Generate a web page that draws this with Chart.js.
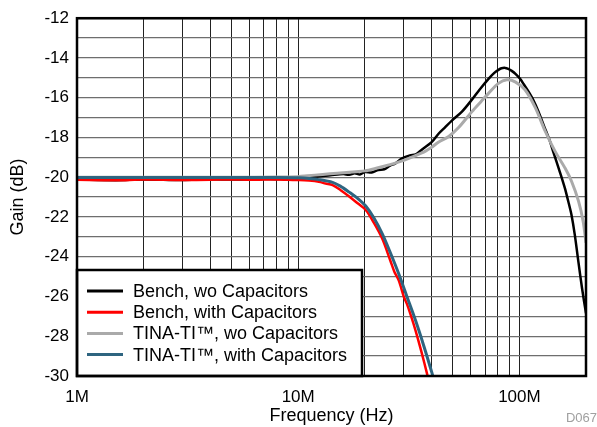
<!DOCTYPE html>
<html>
<head>
<meta charset="utf-8">
<script src="https://cdn.jsdelivr.net/npm/chart.js@4/dist/chart.umd.min.js"></script>
<style>
html,body{margin:0;padding:0;background:#fff;}
#wrap{position:relative;width:597px;height:427px;}
</style>
</head>
<body>
<div id="wrap"><canvas id="c" width="597" height="427"></canvas></div>
<script>
// ---- data (frequency in MHz, gain in dB) ----
const seriesLabels = ["Bench, wo Capacitors", "Bench, with Capacitors", "TINA-TI\u2122, wo Capacitors", "TINA-TI\u2122, with Capacitors"];
const seriesColors = ["#000000", "#ff0000", "#aaaaaa", "#2e6580"];

const freqBenchWo = [1, 1.5, 2, 3, 4, 5, 6, 7, 8, 9, 10, 12, 14, 16, 17, 18, 19, 20, 21.5, 23, 24.5, 26, 27.5, 29.5, 32, 34, 36.3, 40, 43.2, 46, 49.5, 55, 61, 66, 72.5, 77, 80.4, 83, 86.2, 89, 92.3, 96, 100.7, 105, 110, 116, 122, 131, 137, 142, 147, 152, 157, 161, 167, 172, 178, 185, 192, 200];
const gainBenchWo = [-20.12, -20.15, -20.11, -20.14, -20.1, -20.12, -20.1, -20.09, -20.1, -20.06, -20.03, -19.97, -19.9, -19.84, -19.88, -19.8, -19.86, -19.74, -19.76, -19.64, -19.6, -19.42, -19.3, -19.05, -18.9, -18.85, -18.6, -18.25, -17.8, -17.5, -17.15, -16.7, -16.1, -15.6, -15.05, -14.75, -14.6, -14.52, -14.5, -14.55, -14.65, -14.8, -15.05, -15.35, -15.7, -16.15, -16.7, -17.6, -18.15, -18.7, -19.2, -19.7, -20.2, -20.6, -21.3, -21.9, -22.9, -24.3, -25.6, -26.85];

const freqBenchWith = [1, 1.5, 2, 3, 4, 5, 6, 7, 8, 9, 10.1, 11.2, 12.4, 13.3, 14.3, 15.5, 17, 18.5, 20.2, 22, 24, 26.1, 27.2, 28.5, 30, 31, 32.3, 33.9, 36, 38.2, 38.6];
const gainBenchWith = [-20.13, -20.15, -20.12, -20.14, -20.13, -20.11, -20.13, -20.12, -20.11, -20.13, -20.14, -20.17, -20.23, -20.32, -20.4, -20.64, -20.97, -21.3, -21.65, -22.3, -23.1, -24.2, -24.75, -25.2, -26.0, -26.37, -26.95, -27.7, -28.75, -29.87, -30.1];

const freqTinaWo = [1, 2, 5, 8, 10, 11, 12.9, 15, 18.2, 20, 22.5, 25.7, 30, 36.2, 40, 43.2, 47.9, 53.1, 61, 67, 72.5, 80.4, 87.7, 95.7, 106, 118, 131, 145, 161, 172, 185, 194, 200];
const gainTinaWo = [-20.0, -20.0, -20.0, -19.99, -19.97, -19.93, -19.86, -19.8, -19.72, -19.68, -19.55, -19.38, -19.15, -18.78, -18.5, -18.23, -17.95, -17.5, -16.7, -16.2, -15.78, -15.28, -15.1, -15.2, -15.6, -16.5, -17.7, -18.7, -19.55, -20.2, -21.2, -22.2, -23.3];

const freqTinaWith = [1, 2, 5, 8, 10.1, 11.2, 12.4, 14.3, 15.5, 17, 18.5, 20.2, 22, 24, 26.1, 28.5, 31, 33.9, 37, 40.3, 40.8];
const gainTinaWith = [-20.02, -20.02, -20.02, -20.02, -20.03, -20.06, -20.12, -20.26, -20.45, -20.75, -21.05, -21.45, -22.05, -22.85, -23.8, -24.87, -26.0, -27.2, -28.5, -29.87, -30.1];

const xTickLabels = {1: "1M", 10: "10M", 100: "100M"};
const yMin = -30, yMax = -12;
const xMin = 1, xMax = 200;

function pts(fs, gs){ return fs.map((f,i)=>({x:f, y:gs[i]})); }

const seriesData = [
  pts(freqBenchWo, gainBenchWo),
  pts(freqBenchWith, gainBenchWith),
  pts(freqTinaWo, gainTinaWo),
  pts(freqTinaWith, gainTinaWith)
];
const lineWidths = [2.5, 2.5, 3, 3];
const drawOrder = [3, 2, 1, 0];

const FONT = "'Liberation Sans', Arial, sans-serif";

const overlayPlugin = {
  id: 'overlay',
  afterDatasetsDraw(chart){
    const ctx = chart.ctx, a = chart.chartArea;
    // legend box
    const bx = a.left, by = 270, bw = 362 - a.left, bh = a.bottom - 270;
    ctx.save();
    ctx.fillStyle = '#fff';
    ctx.fillRect(bx, by, bw, bh);
    ctx.lineWidth = 2.5;
    ctx.strokeStyle = '#000';
    ctx.strokeRect(bx, by, bw, bh);
    ctx.font = '18px ' + FONT;
    ctx.textBaseline = 'middle';
    ctx.textAlign = 'left';
    chart.data.datasets.forEach((ds, i) => {
      const y = 291 + i * 21.2;
      ctx.strokeStyle = ds.borderColor;
      ctx.lineWidth = 3;
      ctx.beginPath();
      ctx.moveTo(87, y);
      ctx.lineTo(123, y);
      ctx.stroke();
      ctx.fillStyle = '#000';
      ctx.fillText(ds.label, 133, y + 1);
    });
    // frame
    ctx.lineWidth = 2.5;
    ctx.strokeStyle = '#000';
    ctx.strokeRect(a.left, a.top, a.right - a.left, a.bottom - a.top);
    ctx.restore();
  },
  afterDraw(chart){
    const ctx = chart.ctx;
    ctx.save();
    ctx.font = '13px ' + FONT;
    ctx.fillStyle = '#a0a0a0';
    ctx.textAlign = 'right';
    ctx.textBaseline = 'middle';
    ctx.fillText('D067', 597, 418);
    ctx.restore();
  }
};

new Chart(document.getElementById('c'), {
  type: 'line',
  data: {
    datasets: seriesData.map((d, i) => ({
      label: seriesLabels[i],
      data: d,
      borderColor: seriesColors[i],
      backgroundColor: seriesColors[i],
      borderWidth: lineWidths[i],
      pointRadius: 0,
      tension: 0.3,
      fill: false,
      order: drawOrder[i]
    }))
  },
  options: {
    responsive: false,
    animation: false,
    events: [],
    layout: { padding: { left: 0, right: 9, top: 16, bottom: 0 } },
    plugins: { legend: { display: false }, tooltip: { enabled: false } },
    scales: {
      x: {
        type: 'logarithmic',
        min: xMin, max: xMax,
        afterBuildTicks(scale){
          const t = [];
          for (let d = 1; d <= 100; d *= 10)
            for (let m = 1; m <= 9; m++) { const v = m * d; if (v <= xMax) t.push({value: v}); }
          t.push({value: xMax});
          scale.ticks = t;
        },
        afterFit(scale){ scale.height = 51; },
        ticks: {
          autoSkip: false, maxRotation: 0, padding: 11,
          color: '#000',
          font: { family: FONT, size: 17 },
          callback(v){ return xTickLabels[v] || ''; }
        },
        grid: { color: '#222', lineWidth: 1, drawTicks: false },
        border: { display: false },
        title: { display: true, text: 'Frequency (Hz)', color: '#000', font: { family: FONT, size: 18 }, padding: { top: 0, bottom: 0 } }
      },
      y: {
        type: 'linear',
        min: yMin, max: yMax,
        afterFit(scale){ scale.width = 77; },
        ticks: {
          stepSize: 1, autoSkip: false, padding: 8,
          color: '#000',
          font: { family: FONT, size: 17 },
          callback(v){ return (v % 2 === 0) ? String(v) : ''; }
        },
        grid: { color: '#6e6e6e', lineWidth: 1.3, drawTicks: false },
        border: { display: false },
        title: { display: true, text: 'Gain (dB)', color: '#000', font: { family: FONT, size: 18 }, padding: { top: 7.5, bottom: 0 } }
      }
    }
  },
  plugins: [overlayPlugin]
});
</script>
</body>
</html>
